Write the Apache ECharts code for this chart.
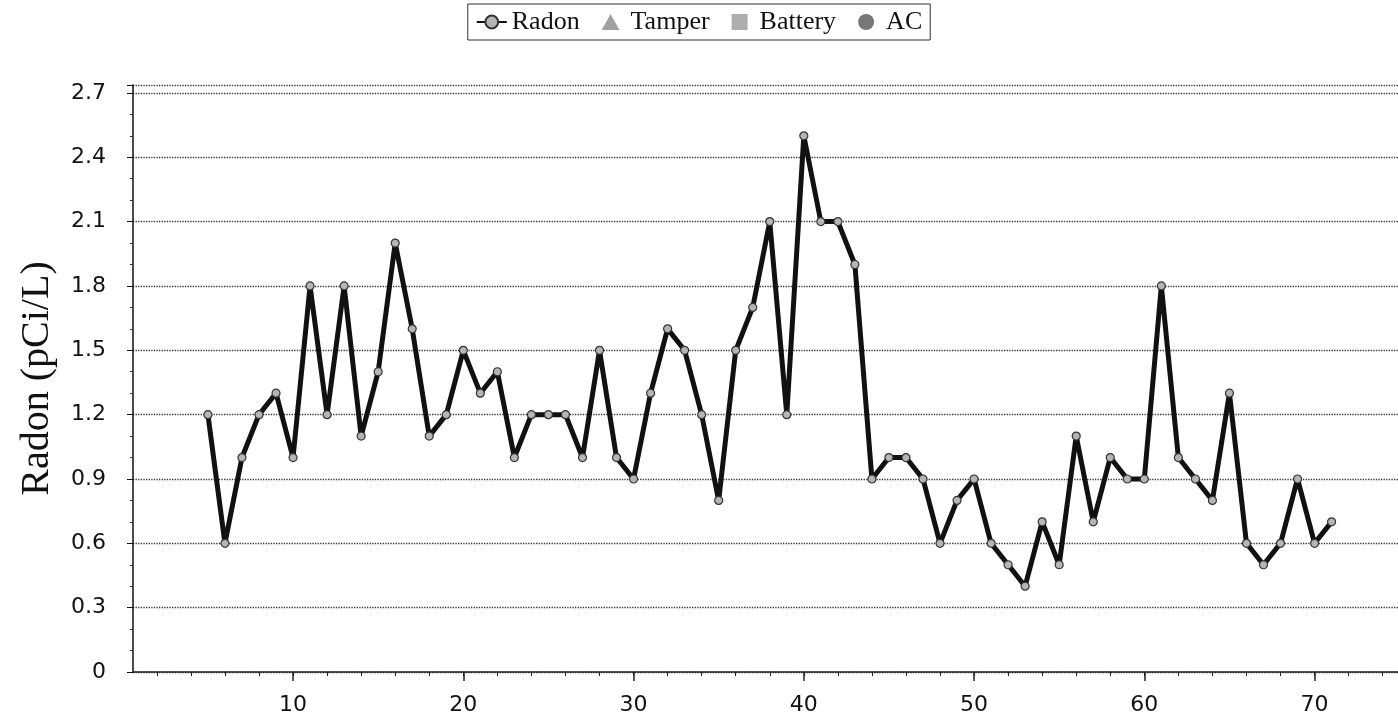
<!DOCTYPE html>
<html>
<head>
<meta charset="utf-8">
<script src="https://cdn.jsdelivr.net/npm/echarts@6/dist/echarts.min.js"></script>
<style>
html, body { margin: 0; padding: 0; background: #fff; }
#chart { width: 1398px; height: 717px; }
</style>
</head>
<body>
<div id="chart"></div>
<script>
// reading number (x) and radon level in pCi/L (y)
var days = [5, 6, 7, 8, 9, 10, 11, 12, 13, 14, 15, 16, 17, 18, 19, 20, 21, 22, 23, 24,
    25, 26, 27, 28, 29, 30, 31, 32, 33, 34, 35, 36, 37, 38, 39, 40, 41, 42, 43, 44,
    45, 46, 47, 48, 49, 50, 51, 52, 53, 54, 55, 56, 57, 58, 59, 60, 61, 62, 63, 64,
    65, 66, 67, 68, 69, 70, 71];
var radon = [1.2, 0.6, 1.0, 1.2, 1.3, 1.0, 1.8, 1.2, 1.8, 1.1, 1.4, 2.0, 1.6, 1.1, 1.2, 1.5, 1.3, 1.4, 1.0, 1.2,
    1.2, 1.2, 1.0, 1.5, 1.0, 0.9, 1.3, 1.6, 1.5, 1.2, 0.8, 1.5, 1.7, 2.1, 1.2, 2.5, 2.1, 2.1, 1.9, 0.9,
    1.0, 1.0, 0.9, 0.6, 0.8, 0.9, 0.6, 0.5, 0.4, 0.7, 0.5, 1.1, 0.7, 1.0, 0.9, 0.9, 1.8, 1.0, 0.9, 0.8,
    1.3, 0.6, 0.5, 0.6, 0.9, 0.6, 0.7];
var xLabels = [10, 20, 30, 40, 50, 60, 70];
var xTicks = [2, 4, 6, 8, 10, 12, 14, 16, 18, 20, 22, 24, 26, 28, 30, 32, 34, 36, 38, 40,
    42, 44, 46, 48, 50, 52, 54, 56, 58, 60, 62, 64, 66, 68, 70, 72, 74];
var legendNames = ['Radon', 'Tamper', 'Battery', 'AC'];

// tiny stand-in for jQuery's shallow extend
var $ = {
    extend : function(a, b){
        for (var k in b) a[k] = b[k];
        return a;
    }
};

var Chart = {
    xMin : 0.6,
    xMax : 74.9,
    yMax : 2.737,
    triangle : 'path://M5,0L10,9L0,9Z',
    square : 'path://M0,0L10,0L10,10L0,10Z',
    points : function(){
        var pts = [];
        for (var i = 0; i < days.length; i++) {
            pts.push([days[i], radon[i]]);
        }
        return pts;
    },
    option : function(){
        var tickFont = { fontFamily: 'DejaVu Sans', fontSize: 22, color: '#111' };
        return {
            animation: false,
            backgroundColor: '#fff',
            legend: {
                left: 'center',
                top: 4,
                data: legendNames,
                itemWidth: 30,
                itemHeight: 16,
                itemGap: 22,
                padding: [5, 8],
                borderColor: '#333',
                borderWidth: 1,
                symbolKeepAspect: true,
                textStyle: { fontFamily: 'Liberation Serif', fontSize: 26, color: '#111' }
            },
            grid: { left: 133, right: 0, top: 85, bottom: 45 },
            xAxis: [
                {
                    type: 'value',
                    min: Chart.xMin,
                    max: Chart.xMax,
                    position: 'bottom',
                    axisLine: { lineStyle: { color: '#222', width: 1.5 } },
                    axisTick: { customValues: xTicks, length: 4, lineStyle: { color: '#222' } },
                    axisLabel: $.extend({ customValues: xLabels, margin: 22 }, tickFont),
                    splitLine: { show: false }
                },
                {
                    type: 'value',
                    min: Chart.xMin,
                    max: Chart.xMax,
                    position: 'bottom',
                    axisLine: { show: false },
                    axisTick: { customValues: xLabels, length: 9, lineStyle: { color: '#222', width: 1.5 } },
                    axisLabel: { show: false },
                    splitLine: { show: false }
                }
            ],
            yAxis: {
                type: 'value',
                min: 0,
                max: Chart.yMax,
                interval: 0.3,
                name: 'Radon (pCi/L)',
                nameLocation: 'middle',
                nameGap: 76,
                nameTextStyle: { fontFamily: 'Liberation Serif', fontSize: 40, color: '#111' },
                axisLine: { show: true, lineStyle: { color: '#111', width: 1.5 } },
                axisTick: { show: true, length: 6, lineStyle: { color: '#111' } },
                minorTick: { show: true, splitNumber: 3, length: 3, lineStyle: { color: '#333' } },
                axisLabel: $.extend({
                    margin: 27,
                    showMaxLabel: false,
                    formatter: function(v){ return v === 0 ? '0' : v.toFixed(1); }
                }, tickFont),
                splitLine: { lineStyle: { type: 'dotted', color: '#333', width: 1.3 } }
            },
            series: [
                {
                    name: 'Radon',
                    type: 'line',
                    data: Chart.points(),
                    symbol: 'circle',
                    symbolSize: 8,
                    lineStyle: { color: '#111', width: 5 },
                    itemStyle: { color: '#b5b5b5', borderColor: '#333', borderWidth: 1.2 }
                },
                { name: 'Tamper', type: 'scatter', data: [], symbol: Chart.triangle, symbolKeepAspect: true, itemStyle: { color: '#8a8a8a' } },
                { name: 'Battery', type: 'scatter', data: [], symbol: Chart.square, symbolKeepAspect: true, itemStyle: { color: '#999' } },
                { name: 'AC', type: 'scatter', data: [], symbol: 'circle', itemStyle: { color: '#555' } }
            ]
        };
    }
};

var myChart = echarts.init(document.getElementById('chart'));
myChart.setOption(Chart.option());
</script>
</body>
</html>
